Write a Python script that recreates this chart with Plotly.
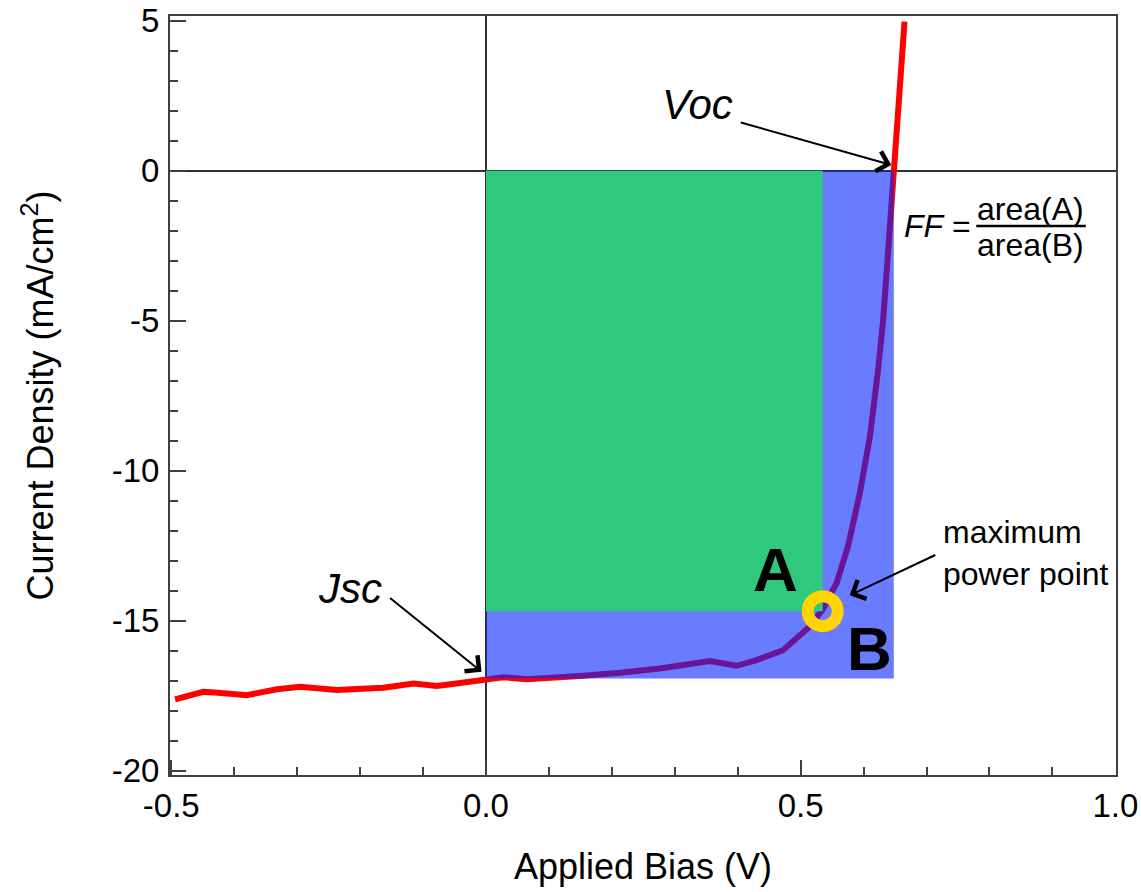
import plotly.graph_objects as go

# J-V curve
bias = [-0.494, -0.449, -0.43, -0.38, -0.332, -0.295, -0.237, -0.2, -0.163, -0.115,
        -0.078, -0.047, 0.0, 0.027, 0.065, 0.1, 0.149, 0.213, 0.276, 0.356,
        0.398, 0.43, 0.472, 0.514, 0.535, 0.557, 0.575, 0.594, 0.61, 0.623,
        0.631, 0.641, 0.648, 0.655, 0.665]
current = [-17.62, -17.37, -17.39, -17.48, -17.28, -17.2, -17.31, -17.25, -17.23, -17.09,
           -17.17, -17.09, -16.95, -16.88, -16.95, -16.92, -16.84, -16.73, -16.59, -16.34,
           -16.5, -16.31, -15.98, -15.2, -14.62, -13.75, -12.53, -10.75, -8.87, -6.64,
           -4.98, -2.09, 0.0, 2.36, 4.97]

# characteristic points
V_mp, J_mp = 0.535, -14.68   # maximum power point
V_oc, J_sc = 0.648, -16.92   # open-circuit voltage, short-circuit current

x_ticks = [-0.5, 0.0, 0.5, 1.0]
x_tick_labels = ["-0.5", "0.0", "0.5", "1.0"]
y_ticks = [5, 0, -5, -10, -15, -20]
y_tick_labels = ["5", "0", "-5", "-10", "-15", "-20"]

FONT = "Liberation Sans, Arial, Helvetica, sans-serif"
AX = "#404040"

fig = go.Figure()

# J-V curve
fig.add_trace(go.Scatter(x=bias, y=current, mode="lines",
                         line=dict(color="#FF0000", width=6), hoverinfo="skip"))
# area B (Voc x Jsc), translucent blue over the curve
fig.add_trace(go.Scatter(x=[0, V_oc, V_oc, 0, 0], y=[0, 0, J_sc, J_sc, 0],
                         mode="lines", fill="toself", line=dict(width=0),
                         fillcolor="rgba(5,35,255,0.6)", hoverinfo="skip"))
# area A (Vmp x Jmp)
fig.add_trace(go.Scatter(x=[0, V_mp, V_mp, 0, 0], y=[0, 0, J_mp, J_mp, 0],
                         mode="lines", fill="toself", line=dict(width=0),
                         fillcolor="rgb(46,201,125)", hoverinfo="skip"))
# maximum power point ring
fig.add_trace(go.Scatter(x=[V_mp], y=[J_mp], mode="markers",
                         marker=dict(symbol="circle-open", size=30, color="#FFD400",
                                     line=dict(width=12, color="#FFD400")),
                         hoverinfo="skip"))

arrow = dict(showarrow=True, arrowhead=4, arrowsize=2, arrowwidth=2,
             arrowcolor="black", text="", xref="x", yref="y", standoff=0)
# Voc arrow
fig.add_annotation(x=0.644, y=0.19, ax=-152, ay=-43, **arrow)
# Jsc arrow
fig.add_annotation(x=-0.007, y=-16.7, ax=-93, ay=-75, **arrow)
# maximum power point arrow
fig.add_annotation(x=0.578, y=-14.15, ax=87, ay=-41, **arrow)

txt = dict(showarrow=False, xref="x", yref="y")
fig.add_annotation(x=0.3365, y=2.22, text="<i>Voc</i>",
                   font=dict(family=FONT, size=42, color="black"), **txt)
fig.add_annotation(x=-0.216, y=-13.91, text="<i>Jsc</i>",
                   font=dict(family=FONT, size=42, color="black"), **txt)
fig.add_annotation(x=0.46, y=-13.28, text="<b>A</b>",
                   font=dict(family=FONT, size=62, color="black"), **txt)
fig.add_annotation(x=0.61, y=-15.94, text="<b>B</b>",
                   font=dict(family=FONT, size=62, color="black"), **txt)
fig.add_annotation(x=0.7233, y=-12.74, text="maximum<br>power point", xanchor="left",
                   align="left", font=dict(family=FONT, size=32, color="black"), **txt)
fig.add_annotation(x=0.7745, y=-1.83, text="<i>FF</i> =", xanchor="right",
                   font=dict(family=FONT, size=32, color="black"), **txt)
fig.add_annotation(x=0.865, y=-1.26, text="area(A)",
                   font=dict(family=FONT, size=32, color="black"), **txt)
fig.add_annotation(x=0.865, y=-2.48, text="area(B)",
                   font=dict(family=FONT, size=32, color="black"), **txt)
fig.add_shape(type="line", xref="x", yref="y", x0=0.779, x1=0.953, y0=-1.84, y1=-1.84,
              line=dict(color="black", width=2.5))

fig.update_xaxes(range=[-0.502, 1.001], tickvals=x_ticks, ticktext=x_tick_labels,
                 ticks="inside", ticklen=15, tickwidth=2, tickcolor=AX,
                 minor=dict(dtick=0.1, tick0=0, ticks="inside", ticklen=8,
                            tickwidth=2, tickcolor=AX),
                 showline=True, linecolor=AX, linewidth=2, mirror=True,
                 zeroline=True, zerolinecolor="#303030", zerolinewidth=1.5,
                 showgrid=False, ticklabelstandoff=0, automargin=False,
                 tickfont=dict(family=FONT, size=33, color="black"),
                 title=dict(text="Applied Bias (V)", standoff=31,
                            font=dict(family=FONT, size=36, color="black")))
fig.update_yaxes(range=[-20.14, 5.157], tickvals=y_ticks, ticktext=y_tick_labels,
                 ticks="inside", ticklen=16, tickwidth=2, tickcolor=AX,
                 minor=dict(dtick=1, tick0=0, ticks="inside", ticklen=8,
                            tickwidth=2, tickcolor=AX),
                 showline=True, linecolor=AX, linewidth=2, mirror=True,
                 zeroline=True, zerolinecolor="#303030", zerolinewidth=1.5,
                 showgrid=False, ticklabelstandoff=2, automargin=False,
                 tickfont=dict(family=FONT, size=33, color="black"),
                 title=dict(text="Current Density (mA/cm<sup>2</sup>)", standoff=47,
                            font=dict(family=FONT, size=36, color="black")))

fig.update_layout(width=1141, height=892, showlegend=False,
                  margin=dict(l=170, r=25, t=16, b=117, pad=0, autoexpand=False),
                  plot_bgcolor="white", paper_bgcolor="white")

fig.write_html("out.html")
